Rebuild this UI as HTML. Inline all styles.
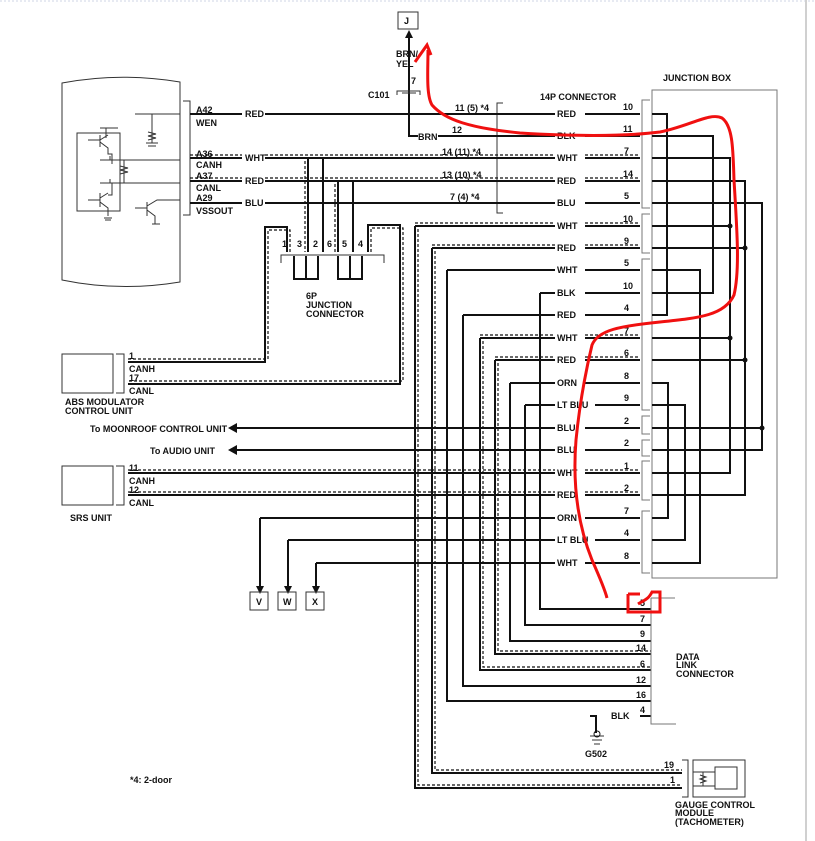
<!DOCTYPE html>
<html><head><meta charset="utf-8"><style>
html,body{margin:0;padding:0;background:#fff;}
svg{display:block;}
text{font-family:"Liberation Sans",sans-serif;font-weight:bold;font-size:9px;fill:#111;}
.w{stroke:#111;stroke-width:2;fill:none;}
.d{stroke:#111;stroke-width:1.2;fill:none;stroke-dasharray:3 2;}
.t{stroke:#333;stroke-width:1;fill:none;}
.g{stroke:#777;stroke-width:1;fill:none;}
</style></head><body>
<svg width="815" height="841" viewBox="0 0 815 841" xmlns="http://www.w3.org/2000/svg">
<rect width="815" height="841" fill="#fff"/>
<line x1="0" y1="1" x2="815" y2="1" stroke="#cfd6e6" stroke-dasharray="2 2"/>
<line x1="806" y1="0" x2="806" y2="841" stroke="#d0d0d0" stroke-width="2"/>

<path class="t" d="M62 83 Q120 72 180 82 L180 282 Q120 292 62 280 Z"/>
<path class="t" d="M183 101 L190 101 L190 215 L183 215"/>
<text x="196" y="113">A42</text><text x="196" y="126">WEN</text>
<text x="196" y="157">A36</text><text x="196" y="168">CANH</text>
<text x="196" y="179">A37</text><text x="196" y="191">CANL</text>
<text x="196" y="201">A29</text><text x="196" y="214">VSSOUT</text>
<g class="t">
<path d="M135 114 H180 M152 114 V143 M148 132 l8 2 -8 2 8 2 -8 2 M146 143 h12 M148 146 h8"/>
<rect x="77" y="133" width="43" height="78"/>
<path d="M100 128 h18 M106 128 v10 M88 140 h12 M100 135 v12 M100 140 l8 -5 M100 142 l8 6 v6 h4 v10"/>
<path d="M100 160 H180 M110 160 v-4 M100 183 H180 M110 183 v-4 M124 160 v23 M120 166 l8 2 -8 2 8 2 -8 2"/>
<path d="M112 183 v12 h-4 M88 200 h12 M100 193 v14 M100 198 l8 -5 M100 202 l8 6 v8 M104 218 h8 M105 220 h6"/>
<path d="M135 208 h12 M147 202 v14 M147 206 l10 -6 h23 M147 210 l8 6 v8 M152 224 h8"/>
</g>

<rect class="t" x="398" y="12" width="20" height="17"/><text x="404" y="24">J</text>
<path class="w" d="M409 33 V136 H418"/><path d="M405 38 L409 30 L413 38 Z" fill="#111"/>
<text x="396" y="57">BRN/</text><text x="396" y="67">YEL</text>
<text x="411" y="84">7</text><text x="368" y="98">C101</text>
<path class="t" d="M397 95 v-4 h23 v4 M402 93 h14"/>
<text x="418" y="140">BRN</text>
<text x="540" y="100">14P CONNECTOR</text>
<path class="t" d="M503 103 h-6 V213 h6"/>
<text x="455" y="111">11 (5) *4</text><text x="452" y="133">12</text>
<text x="442" y="155">14 (11) *4</text><text x="442" y="178">13 (10) *4</text><text x="450" y="200">7 (4) *4</text>

<g class="w">
<path d="M190 114 H242 M265 114 H555 M585 114 H640"/>
<path d="M438 136 H555 M585 136 H640"/>
<path d="M190 158 H242 M265 158 H555 M585 158 H640"/>
<path d="M190 181 H242 M265 181 H555 M585 181 H640"/>
<path d="M190 203 H242 M265 203 H555 M585 203 H640"/>
<path d="M415 226 H555 M585 226 H640"/>
<path d="M432 248 H555 M585 248 H640"/>
<path d="M447 270 H555 M585 270 H640"/>
<path d="M540 293 H555 M585 293 H640"/>
<path d="M463 315 H555 M585 315 H640"/>
<path d="M480 338 H555 M585 338 H640"/>
<path d="M495 360 H555 M585 360 H640"/>
<path d="M510 383 H555 M585 383 H640"/>
<path d="M525 405 H555 M595 405 H640"/>
<path d="M236 428 H555 M585 428 H640"/>
<path d="M236 450 H555 M585 450 H640"/>
<path d="M128 473 H555 M585 473 H640"/>
<path d="M128 495 H555 M585 495 H640"/>
<path d="M260 518 H555 M585 518 H640"/>
<path d="M288 540 H555 M595 540 H640"/>
<path d="M316 563 H555 M585 563 H640"/>
</g>
<g class="d">
<path d="M190 155 H242 M265 155 H555 M585 155 H640 M190 178 H242 M265 178 H555 M585 178 H640 M415 223 H555 M585 223 H640 M432 245 H555 M585 245 H640 M480 335 H555 M585 335 H640 M495 357 H555 M585 357 H640 M128 470 H555 M585 470 H640 M128 492 H555 M585 492 H640"/>
</g>
<path d="M228 428 l9 -5 v10 Z M228 450 l9 -5 v10 Z" fill="#111"/>
<g>
<text x="245" y="117">RED</text><text x="245" y="161">WHT</text><text x="245" y="184">RED</text><text x="245" y="206">BLU</text>
<text x="557" y="117">RED</text><text x="557" y="139">BLK</text><text x="557" y="161">WHT</text><text x="557" y="184">RED</text><text x="557" y="206">BLU</text>
<text x="557" y="229">WHT</text><text x="557" y="251">RED</text><text x="557" y="273">WHT</text><text x="557" y="296">BLK</text><text x="557" y="318">RED</text>
<text x="557" y="341">WHT</text><text x="557" y="363">RED</text><text x="557" y="386">ORN</text><text x="557" y="408">LT BLU</text><text x="557" y="431">BLU</text>
<text x="557" y="453">BLU</text><text x="557" y="476">WHT</text><text x="557" y="498">RED</text><text x="557" y="521">ORN</text><text x="557" y="543">LT BLU</text><text x="557" y="566">WHT</text>
</g>
<g>
<text x="623" y="110">10</text><text x="623" y="132">11</text><text x="624" y="154">7</text><text x="623" y="177">14</text><text x="624" y="199">5</text>
<text x="623" y="222">10</text><text x="624" y="244">9</text><text x="624" y="266">5</text><text x="623" y="289">10</text><text x="624" y="311">4</text>
<text x="624" y="334">7</text><text x="624" y="356">6</text><text x="624" y="379">8</text><text x="624" y="401">9</text><text x="624" y="424">2</text>
<text x="624" y="446">2</text><text x="624" y="469">1</text><text x="624" y="491">2</text><text x="624" y="514">7</text><text x="624" y="536">4</text><text x="624" y="559">8</text>
</g>
<path class="g" d="M650 100 h-8 V208 h8 M650 214 h-8 V253 h8 M650 259 h-8 V410 h8 M650 416 h-8 V434 h8 M650 440 h-8 V456 h8 M650 461 h-8 V500 h8 M650 511 h-8 V573 h8"/>
<text x="663" y="81">JUNCTION BOX</text>
<rect class="g" x="652" y="90" width="125" height="488"/>
<g class="w" stroke-width="1.6">
<path d="M652 114 H667 V315 H652"/>
<path d="M652 136 H713 V293 H652"/>
<path d="M652 158 H730 V473 H652 M652 226 H730 M652 338 H730"/>
<path d="M652 181 H745 V495 H652 M652 248 H745 M652 360 H745"/>
<path d="M652 203 H762 V450 H652 M652 428 H762"/>
<path d="M652 270 H700 V563 H652"/>
<path d="M652 383 H668 V518 H652"/>
<path d="M652 405 H685 V540 H652"/>
</g>
<g fill="#111"><circle cx="730" cy="226" r="2.5"/><circle cx="730" cy="338" r="2.5"/><circle cx="745" cy="248" r="2.5"/><circle cx="745" cy="360" r="2.5"/><circle cx="762" cy="428" r="2.5"/></g>

<g class="w">
<path d="M308 158 V252 M323 158 V252 M338 181 V252 M353 181 V252"/>
<path d="M287 252 V227 H265 V362 H128"/>
<path d="M368 252 V225 H400 V384 H128"/>
</g>
<path class="d" d="M305 161 V252 M335 184 V252 M290 252 V230 H268 V359 H128 M371 252 V228 H403 V381 H128"/>
<g font-size="8"><text x="282" y="247">1</text><text x="297" y="247">3</text><text x="313" y="247">2</text><text x="327" y="247">6</text><text x="342" y="247">5</text><text x="358" y="247">4</text></g>
<path class="t" d="M281 263 v-8 H384 v8"/>
<path class="w" stroke-width="1.5" d="M294 256 V279 H318 V256 M306 256 V279 M338 256 V279 H362 V256 M350 256 V279"/>
<text x="306" y="299">6P</text><text x="306" y="308">JUNCTION</text><text x="306" y="317">CONNECTOR</text>

<rect class="t" x="62" y="354" width="51" height="39"/><path class="t" d="M116 354 h8 V393 h-8"/>
<text x="129" y="359">1</text><text x="129" y="372">CANH</text><text x="129" y="381">17</text><text x="129" y="394">CANL</text>
<text x="65" y="405">ABS MODULATOR</text><text x="65" y="414">CONTROL UNIT</text>
<text x="90" y="432">To MOONROOF CONTROL UNIT</text><text x="150" y="454">To AUDIO UNIT</text>
<rect class="t" x="62" y="466" width="51" height="39"/><path class="t" d="M116 466 h8 V505 h-8"/>
<text x="129" y="471">11</text><text x="129" y="484">CANH</text><text x="129" y="493">12</text><text x="129" y="506">CANL</text>
<text x="70" y="521">SRS UNIT</text>

<path class="w" d="M260 518 V588 M288 540 V588 M316 563 V588"/>
<path d="M256 586 h8 l-4 8 Z M284 586 h8 l-4 8 Z M312 586 h8 l-4 8 Z" fill="#111"/>
<rect class="t" x="250" y="592" width="18" height="18"/><rect class="t" x="278" y="592" width="18" height="18"/><rect class="t" x="306" y="592" width="18" height="18"/>
<text x="256" y="605">V</text><text x="283" y="605">W</text><text x="312" y="605">X</text>

<g class="w">
<path d="M415 226 V788 H682"/><path d="M432 248 V773 H682"/>
<path d="M447 270 V701 H651"/><path d="M463 315 V686 H651"/>
<path d="M480 338 V670 H651"/><path d="M495 360 V654 H651"/>
<path d="M510 383 V641 H651"/><path d="M525 405 V625 H651"/>
<path d="M540 293 V609 H651"/>
<path d="M590 716 H596 V733 M640 716 H651"/>
</g>
<path class="d" d="M418 229 V785 H682 M435 251 V770 H682 M483 341 V667 H651 M498 363 V651 H651"/>
<path class="g" d="M651 598 H675 M651 598 V724 H676"/>
<g><text x="640" y="606">5</text><text x="640" y="622">7</text><text x="640" y="637">9</text><text x="636" y="651">14</text><text x="640" y="667">6</text>
<text x="636" y="683">12</text><text x="636" y="698">16</text><text x="640" y="713">4</text></g>
<text x="676" y="660">DATA</text><text x="676" y="668">LINK</text><text x="676" y="677">CONNECTOR</text>
<text x="611" y="719">BLK</text>
<path class="t" d="M590 736 h14 M592 740 h10 M594 744 h6"/><circle cx="597" cy="734" r="3" fill="none" stroke="#111"/>
<text x="585" y="757">G502</text>
<path class="t" d="M682 760 h6 V797 h-6"/>
<rect class="t" x="693" y="760" width="52" height="37"/>
<rect class="t" x="715" y="767" width="22" height="22"/>
<path class="t" d="M693 772 h22 M693 786 h22 M703 772 v14 M700 775 l6 2 -6 2 6 2 -6 2"/>
<text x="664" y="768">19</text><text x="670" y="783">1</text>
<text x="675" y="808">GAUGE CONTROL</text><text x="675" y="816">MODULE</text><text x="675" y="825">(TACHOMETER)</text>
<text x="130" y="783">*4: 2-door</text>

<path d="M428 50 C428 70 426 95 432 105 C445 120 470 128 520 133 C570 136 620 137 660 132 C690 126 710 112 722 118 C733 126 733 150 734 180 C737 230 740 270 734 295 C725 315 700 318 660 322 C620 326 598 330 592 345 C586 370 580 400 576 440 C572 490 580 530 592 560 C600 578 605 590 607 598" stroke="#f01010" stroke-width="3" fill="none"/>
<path d="M415 62 L427 45 L431 55" stroke="#f01010" stroke-width="3" fill="none"/>
<path d="M628 594 H640 M628 594 V612 H660 V592 L652 592 C648 600 644 600 638 604" stroke="#f01010" stroke-width="3" fill="none"/>
</svg>
</body></html>
